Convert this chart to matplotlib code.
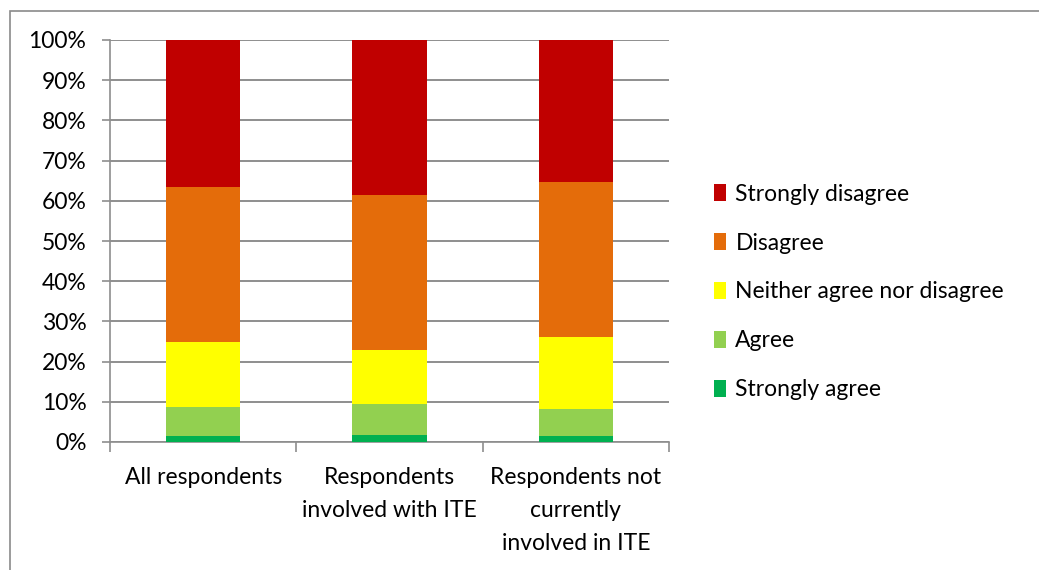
import matplotlib.pyplot as plt
from matplotlib.patches import Rectangle
from matplotlib.ticker import PercentFormatter

categories = ["All respondents", "Respondents\ninvolved with ITE", "Respondents not\ncurrently\ninvolved in ITE"]
strongly_agree = [1.6, 1.8, 1.6]
agree = [7.0, 7.7, 6.6]
neither = [16.4, 13.5, 18.0]
disagree = [38.4, 38.5, 38.5]
strongly_disagree = [36.6, 38.5, 35.3]

series = [
    ("Strongly agree", strongly_agree, "#00B050"),
    ("Agree", agree, "#92D050"),
    ("Neither agree nor disagree", neither, "#FFFF00"),
    ("Disagree", disagree, "#E46C0A"),
    ("Strongly disagree", strongly_disagree, "#C00000"),
]

plt.rcParams["font.family"] = ["Lato", "DejaVu Sans"]
grid_col = "#8e8e8e"
fs = 16.5

fig = plt.figure(figsize=(10.39, 5.70), dpi=100)
ax = fig.add_axes([110 / 1039, 128 / 570, 559 / 1039, 402 / 570])

# chart area frame
fig.patches.append(Rectangle((10 / 1039, -0.1), 1.2, (570 - 11) / 570 + 0.1,
                             transform=fig.transFigure, fill=False,
                             edgecolor="#8a8a8a", linewidth=1.2))

x = range(len(categories))
bottom = [0.0] * len(categories)
handles = []
for name, vals, col in series:
    b = ax.bar(x, vals, width=0.4, bottom=bottom, color=col, label=name, zorder=3)
    handles.append(b)
    bottom = [a + v for a, v in zip(bottom, vals)]

ax.set_xlim(-0.5, 2.5)
ax.set_ylim(0, 100)
ax.set_yticks(range(0, 101, 10))
ax.yaxis.set_major_formatter(PercentFormatter(decimals=0))
ax.grid(axis="y", color=grid_col, linewidth=1.4, zorder=0)
ax.set_axisbelow(True)

ax.set_xticks(list(x))
ax.set_xticklabels(categories, linespacing=1.7, va="top")
ax.set_xticks([-0.5, 0.5, 1.5, 2.5], minor=True)
ax.tick_params(axis="x", which="major", length=0, pad=18, labelsize=fs)
ax.tick_params(axis="x", which="minor", length=7, width=1.2, color=grid_col)
ax.tick_params(axis="y", length=6, width=1.2, color=grid_col, labelsize=fs, pad=11)

for s in ["top", "right"]:
    ax.spines[s].set_visible(False)
for s in ["left", "bottom"]:
    ax.spines[s].set_color(grid_col)
    ax.spines[s].set_linewidth(1.2)

fig.legend(handles[::-1], [s[0] for s in series][::-1],
           loc="center left", bbox_to_anchor=(693 / 1039, (570 - 292) / 570),
           frameon=False, fontsize=fs, handlelength=0.55, handleheight=0.75,
           handletextpad=0.4, labelspacing=1.22)

fig.savefig("out.png", dpi=100)
